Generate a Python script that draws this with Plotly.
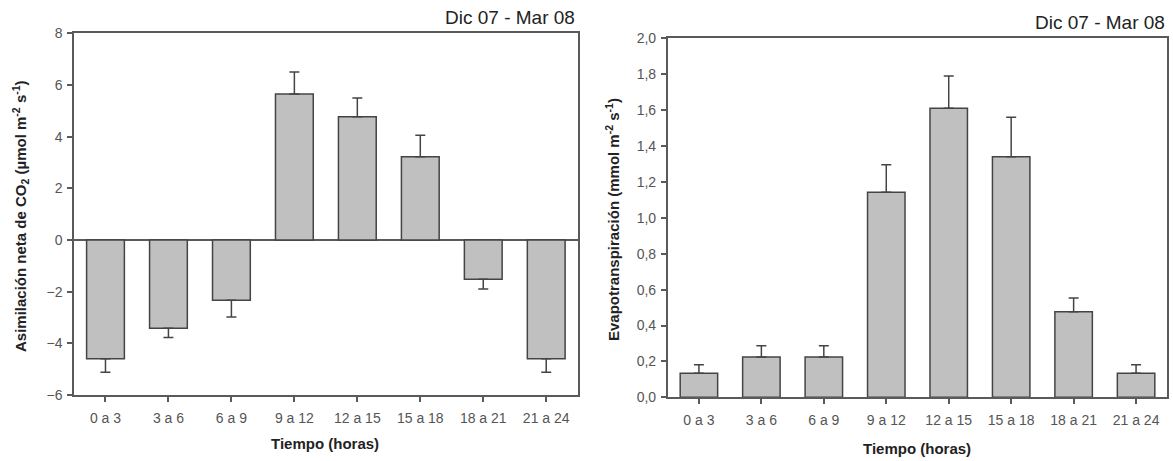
import plotly.graph_objects as go

categories = ["0 a 3", "3 a 6", "6 a 9", "9 a 12", "12 a 15", "15 a 18", "18 a 21", "21 a 24"]

# Left panel: net CO2 assimilation (µmol m-2 s-1)
asim_values = [-4.6, -3.42, -2.33, 5.65, 4.77, 3.22, -1.52, -4.6]
asim_errors = [0.52, 0.35, 0.65, 0.85, 0.73, 0.83, 0.38, 0.52]

# Right panel: evapotranspiration (mmol m-2 s-1)
evap_values = [0.134, 0.224, 0.224, 1.142, 1.61, 1.34, 0.477, 0.134]
evap_errors = [0.047, 0.063, 0.063, 0.154, 0.18, 0.22, 0.076, 0.047]

period_label = "Dic 07 - Mar 08"

W, H = 1173, 461
FONT = "Arial, Liberation Sans, sans-serif"
BAR_FILL = "#c0c0c0"
EDGE = "#444444"
AXIS = "#5a5a5a"
TICKTXT = "#555555"


def err_up(vals, errs):
    return [e if v >= 0 else 0 for v, e in zip(vals, errs)]


def err_down(vals, errs):
    return [e if v < 0 else 0 for v, e in zip(vals, errs)]


fig = go.Figure()

fig.add_trace(go.Bar(
    x=categories, y=asim_values, xaxis="x", yaxis="y",
    marker=dict(color=BAR_FILL, line=dict(color=EDGE, width=1.5)),
    error_y=dict(type="data", symmetric=False,
                 array=err_up(asim_values, asim_errors),
                 arrayminus=err_down(asim_values, asim_errors),
                 color=EDGE, thickness=1.5, width=5),
    showlegend=False,
))

fig.add_trace(go.Bar(
    x=categories, y=evap_values, xaxis="x2", yaxis="y2",
    marker=dict(color=BAR_FILL, line=dict(color=EDGE, width=1.5)),
    error_y=dict(type="data", symmetric=False,
                 array=evap_errors, arrayminus=[0] * len(evap_errors),
                 color=EDGE, thickness=1.5, width=5),
    showlegend=False,
))


def px_x(p):
    return p / W


def px_y(p):
    return 1 - p / H


axis_common = dict(
    showline=True, mirror=True, linecolor=AXIS, linewidth=1.5,
    showgrid=False, ticks="outside", ticklen=5, tickwidth=1.5, tickcolor=AXIS,
    tickfont=dict(family=FONT, size=14, color=TICKTXT), automargin=False,
    fixedrange=True,
)

fig.update_layout(
    width=W, height=H,
    margin=dict(l=0, r=0, t=0, b=0),
    paper_bgcolor="white", plot_bgcolor="white",
    separators=", ",
    bargap=0.4,
    font=dict(family=FONT),
    xaxis=dict(domain=[px_x(74), px_x(577.7)], anchor="y", ticklabelstandoff=4, **axis_common),
    yaxis=dict(domain=[px_y(395), px_y(33.3)], anchor="x", range=[-6, 8], dtick=2,
               zeroline=True, zerolinecolor=AXIS, zerolinewidth=1.5, ticklabelstandoff=2,
               **axis_common),
    xaxis2=dict(domain=[px_x(667.7), px_x(1167.3)], anchor="y2", ticklabelstandoff=4, **axis_common),
    yaxis2=dict(domain=[px_y(397.3), px_y(38.3)], anchor="x2", range=[0, 2], dtick=0.2,
                tickformat=".1f", zeroline=False, ticklabelstandoff=2, **axis_common),
)

title_font = dict(family=FONT, size=19, color="#222222")
axtitle_font = dict(family=FONT, size=15, color="#222222")

fig.add_annotation(text=period_label, xref="paper", yref="paper",
                   x=px_x(577), y=px_y(17), xanchor="right", yanchor="middle",
                   showarrow=False, font=title_font)
fig.add_annotation(text=period_label, xref="paper", yref="paper",
                   x=px_x(1167), y=px_y(22.7), xanchor="right", yanchor="middle",
                   showarrow=False, font=title_font)

fig.add_annotation(text="<b>Asimilación neta de CO<sub>2</sub> (µmol m<sup>-2</sup> s<sup>-1</sup>)</b>",
                   xref="paper", yref="paper", x=px_x(20), y=px_y(216),
                   xanchor="center", yanchor="middle", textangle=-90,
                   showarrow=False, font=axtitle_font)
fig.add_annotation(text="<b>Evapotranspiración (mmol m<sup>-2</sup> s<sup>-1</sup>)</b>",
                   xref="paper", yref="paper", x=px_x(613), y=px_y(220),
                   xanchor="center", yanchor="middle", textangle=-90,
                   showarrow=False, font=axtitle_font)

fig.add_annotation(text="<b>Tiempo (horas)</b>", xref="paper", yref="paper",
                   x=px_x(325), y=px_y(443), xanchor="center", yanchor="middle",
                   showarrow=False, font=axtitle_font)
fig.add_annotation(text="<b>Tiempo (horas)</b>", xref="paper", yref="paper",
                   x=px_x(917), y=px_y(448), xanchor="center", yanchor="middle",
                   showarrow=False, font=axtitle_font)

fig.write_html("out.html")
